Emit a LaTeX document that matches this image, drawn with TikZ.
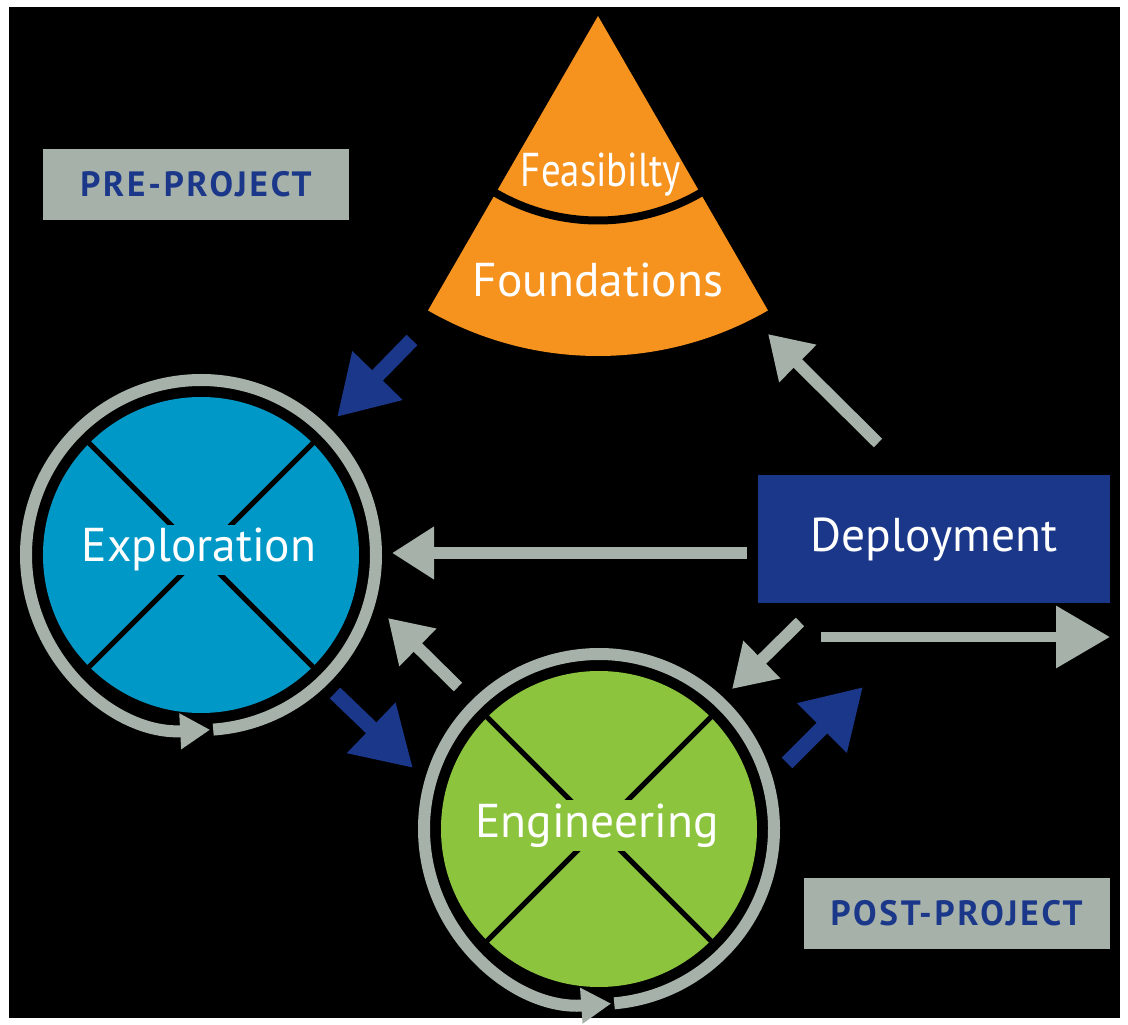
\documentclass[tikz,border=0pt]{standalone}
\usepackage{fontspec}
\setmainfont{PT Sans}
\usetikzlibrary{arrows.meta}

\definecolor{ringgray}{RGB}{165,177,169}
\definecolor{navy}{RGB}{27,55,138}
\definecolor{cyanfill}{RGB}{0,153,199}
\definecolor{limefill}{RGB}{140,196,62}
\definecolor{conefill}{RGB}{246,146,30}

\begin{document}
\begin{tikzpicture}[
  tagbox/.style={fill=ringgray, text=navy, inner sep=0pt,
    minimum width=3.06cm, minimum height=0.71cm,
    font=\fontsize{10}{12}\selectfont\bfseries\addfontfeature{LetterSpace=8}},
  bigtext/.style={text=white, inner sep=1pt, font=\fontsize{13.5}{16}\selectfont},
  disc/.style={circle, minimum size=3.16cm, inner sep=0pt},
  ring/.style={draw=ringgray, line width=0.12cm, -{Triangle[length=0.3cm,width=0.34cm]}},
  cross/.style={draw=black, line width=0.05cm},
  bluearr/.style={draw=navy, line width=0.15cm, -{Triangle[length=0.58cm,width=0.66cm]}},
  grayarr/.style={draw=ringgray, line width=0.12cm, -{Triangle[length=0.42cm,width=0.5cm]}},
  bigarr/.style={draw=ringgray, line width=0.1cm, -{Triangle[length=0.54cm,width=0.6cm]}}
]
\useasboundingbox (0,0) rectangle (11.28,-10.25);
\fill[white] (0,0) rectangle (11.28,-10.25);
\fill[black] (0.09,-0.07) rectangle (11.20,-10.18);

% cone
\coordinate (apex) at (5.98,-0.16);
\fill[conefill] (apex) -- ++(-120:3.4) arc (-120:-60:3.4) -- cycle;
\draw[black, line width=0.08cm] (apex) ++(-121:2.045) arc (-121:-59:2.045);
\node[bigtext, anchor=base] (feas) at (6.01,-1.87) {\scalebox{0.82}[1]{Feasibilty}};
\node[bigtext, anchor=base] (found) at (5.98,-2.97) {Foundations};

% tags
\node[tagbox] (pre) at (1.96,-1.845) {PRE-PROJECT};
\node[tagbox] (post) at (9.565,-9.135) {POST-PROJECT};

% deployment
\node[fill=navy, minimum width=3.52cm, minimum height=1.28cm, inner sep=0pt,
  text=white, text height=0.7em, text depth=0pt, font=\fontsize{13.5}{16}\selectfont]
  (deploy) at (9.34,-5.39) {Deployment};

% exploration
\node[disc, fill=cyanfill] (expl) at (2.01,-5.55) {};
\draw[ring] (expl) ++(-86:1.75) arc (-86:273:1.75);
\draw[cross] (expl.45) -- (expl.225);
\draw[cross] (expl.135) -- (expl.-45);
\node[bigtext, fill=cyanfill, anchor=base] (expltext) at (1.99,-5.62) {Exploration};

% engineering
\node[disc, fill=limefill] (eng) at (5.99,-8.29) {};
\draw[ring] (eng) ++(-85:1.75) arc (-85:274:1.75);
\draw[cross] (eng.45) -- (eng.225);
\draw[cross] (eng.135) -- (eng.-45);
\node[bigtext, fill=limefill, anchor=base] (engtext) at (5.97,-8.37) {Engineering};

% arrow ends
\coordinate (f2e) at (4.12,-3.40);
\coordinate (e1) at (3.37,-4.17);
\coordinate (d2f) at (8.78,-4.43);
\coordinate (f1) at (7.68,-3.34);
\coordinate (d2e) at (7.47,-5.53);
\coordinate (e2) at (3.92,-5.53);
\coordinate (g2e) at (4.58,-6.87);
\coordinate (e3) at (3.88,-6.18);
\coordinate (e2g) at (3.35,-6.93);
\coordinate (g1) at (4.13,-7.68);
\coordinate (d2g) at (8.00,-6.22);
\coordinate (g2) at (7.32,-6.89);
\coordinate (g2d) at (7.87,-7.63);
\coordinate (d1) at (8.63,-6.87);
\coordinate (out1) at (8.21,-6.37);
\coordinate (out2) at (11.10,-6.37);

\draw[bluearr] (f2e) -- (e1);
\draw[grayarr] (d2f) -- (f1);
\draw[grayarr] (d2e) -- (e2);
\draw[grayarr] (g2e) -- (e3);
\draw[bluearr] (e2g) -- (g1);
\draw[grayarr] (d2g) -- (g2);
\draw[bluearr] (g2d) -- (d1);
\draw[bigarr] (out1) -- (out2);
\end{tikzpicture}
\end{document}
